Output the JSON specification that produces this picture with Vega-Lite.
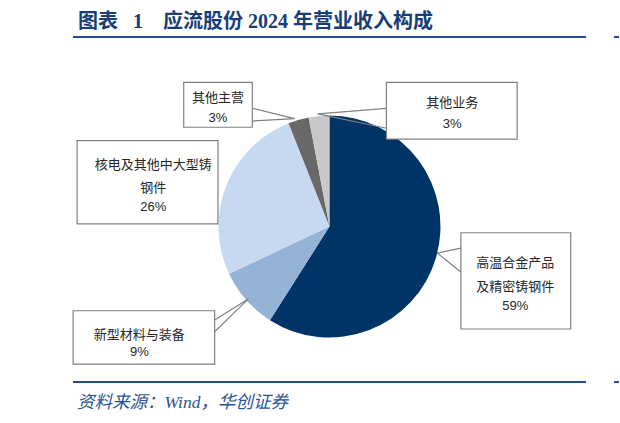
{
  "$schema": "https://vega.github.io/schema/vega-lite/v6.json",
  "width": 620,
  "height": 423,
  "autosize": {"type": "fit", "contains": "padding"},
  "padding": 0,
  "background": "white",
  "data": {
    "values": [
      {"category": "高温合金产品及精密铸钢件", "share": 0.59},
      {"category": "新型材料与装备", "share": 0.09},
      {"category": "核电及其他中大型铸钢件", "share": 0.26},
      {"category": "其他主营", "share": 0.03},
      {"category": "其他业务", "share": 0.03}
    ]
  },
  "layer": [
    {
      "data": {"values": [{}]},
      "mark": {"type": "rule", "color": "#1f4e8f", "strokeWidth": 2},
      "encoding": {
        "x": {"datum": -231.5, "type": "quantitative", "scale": {"domain": [-297.3, 261.3], "nice": false, "zero": false}},
        "x2": {"datum": 231.5},
        "y": {"datum": 170.7, "type": "quantitative", "scale": {"domain": [-177.0, 204.05], "nice": false, "zero": false}}
      }
    },
    {
      "data": {"values": [{}]},
      "mark": {"type": "rule", "color": "#1f4e8f", "strokeWidth": 2},
      "encoding": {"x": {"datum": -231.5}, "x2": {"datum": 231.5}, "y": {"datum": -140.1}}
    },
    {
      "data": {"values": [{}]},
      "mark": {"type": "rule", "color": "#1f4e8f", "strokeWidth": 2},
      "encoding": {"x": {"datum": 256.8}, "x2": {"datum": 261.3}, "y": {"datum": 170.7}}
    },
    {
      "data": {"values": [{}]},
      "mark": {"type": "rule", "color": "#1f4e8f", "strokeWidth": 2},
      "encoding": {"x": {"datum": 256.8}, "x2": {"datum": 261.3}, "y": {"datum": -140.1}}
    },
    {
      "data": {"values": [{}]},
      "mark": {
        "type": "text",
        "text": "图表\u2002\u00a01\u3000应流股份 2024 年营业收入构成",
        "align": "left",
        "baseline": "middle",
        "font": "Liberation Serif, Noto Sans CJK SC",
        "fontSize": 20,
        "fontWeight": "bold",
        "color": "#183e78"
      },
      "encoding": {"x": {"datum": -227.0}, "y": {"datum": 184.2}}
    },
    {
      "data": {"values": [{}]},
      "mark": {
        "type": "text",
        "text": "资料来源：Wind，华创证券",
        "align": "left",
        "baseline": "middle",
        "font": "Liberation Serif, Noto Sans CJK SC",
        "fontSize": 17.5,
        "fontStyle": "italic",
        "color": "#2a5394"
      },
      "encoding": {"x": {"datum": -227.9}, "y": {"datum": -159.0}}
    },
    {
      "transform": [{"window": [{"op": "row_number", "as": "idx"}]}],
      "mark": {"type": "arc", "outerRadius": 111},
      "encoding": {
        "theta": {"field": "share", "type": "quantitative", "stack": true},
        "order": {"field": "idx", "type": "quantitative"},
        "color": {
          "field": "category",
          "type": "nominal",
          "scale": {
            "domain": ["高温合金产品及精密铸钢件", "新型材料与装备", "核电及其他中大型铸钢件", "其他主营", "其他业务"],
            "range": ["#003366", "#95b3d7", "#c6d9f1", "#686868", "#c8c8c8"]
          },
          "legend": null
        },
        "x": {"datum": 0},
        "y": {"datum": 0}
      }
    },
    {
      "transform": [{"filter": "datum.category === '其他业务'"}],
      "layer": [
        {"mark": {"type": "rect", "fill": "white", "stroke": "#808080", "strokeWidth": 1.2},
         "encoding": {"x": {"datum": 51.4}, "x2": {"datum": 169.4}, "y": {"datum": 78.8}, "y2": {"datum": 129.9}}},
        {"mark": {"type": "rule", "color": "#808080", "strokeWidth": 1.2},
         "encoding": {"x": {"datum": 51.4}, "x2": {"datum": -10.5}, "y": {"datum": 106.5}, "y2": {"datum": 101.4}}},
        {"mark": {"type": "rule", "color": "#808080", "strokeWidth": 1.2},
         "encoding": {"x": {"datum": 51.4}, "x2": {"datum": -10.5}, "y": {"datum": 88.5}, "y2": {"datum": 101.4}}},
        {"mark": {"type": "text", "font": "Liberation Sans, Noto Sans CJK SC", "fontSize": 13, "color": "#262626", "baseline": "middle"},
         "encoding": {"x": {"datum": 110.8}, "y": {"datum": 111.0}, "text": {"field": "category"}}},
        {"mark": {"type": "text", "font": "Liberation Sans, Noto Sans CJK SC", "fontSize": 13, "color": "#262626", "baseline": "middle"},
         "encoding": {"x": {"datum": 110.8}, "y": {"datum": 92.3}, "text": {"field": "share", "type": "quantitative", "format": ".0%"}}}
      ]
    },
    {
      "transform": [{"filter": "datum.category === '其他主营'"}],
      "layer": [
        {"mark": {"type": "rect", "fill": "white", "stroke": "#808080", "strokeWidth": 1.2},
         "encoding": {"x": {"datum": -131.5}, "x2": {"datum": -69.6}, "y": {"datum": 89.4}, "y2": {"datum": 129.9}}},
        {"mark": {"type": "rule", "color": "#808080", "strokeWidth": 1.2},
         "encoding": {"x": {"datum": -69.6}, "x2": {"datum": -31.5}, "y": {"datum": 106.5}, "y2": {"datum": 97.2}}},
        {"mark": {"type": "rule", "color": "#808080", "strokeWidth": 1.2},
         "encoding": {"x": {"datum": -69.6}, "x2": {"datum": -31.5}, "y": {"datum": 95.0}, "y2": {"datum": 97.2}}},
        {"mark": {"type": "text", "font": "Liberation Sans, Noto Sans CJK SC", "fontSize": 13, "color": "#262626", "baseline": "middle"},
         "encoding": {"x": {"datum": -100.6}, "y": {"datum": 115.5}, "text": {"field": "category"}}},
        {"mark": {"type": "text", "font": "Liberation Sans, Noto Sans CJK SC", "fontSize": 13, "color": "#262626", "baseline": "middle"},
         "encoding": {"x": {"datum": -100.6}, "y": {"datum": 97.5}, "text": {"field": "share", "type": "quantitative", "format": ".0%"}}}
      ]
    },
    {
      "transform": [
        {"filter": "datum.category === '核电及其他中大型铸钢件'"},
        {"calculate": "[substring(datum.category, 0, 9), substring(datum.category, 9)]", "as": "lines"}
      ],
      "layer": [
        {"mark": {"type": "rect", "fill": "white", "stroke": "#808080", "strokeWidth": 1.2},
         "encoding": {"x": {"datum": -227.7}, "x2": {"datum": -100.6}, "y": {"datum": 2.3}, "y2": {"datum": 77.3}}},
        {"mark": {"type": "text", "font": "Liberation Sans, Noto Sans CJK SC", "fontSize": 13, "color": "#262626", "baseline": "middle", "lineHeight": 23.3},
         "encoding": {"x": {"datum": -159.0}, "y": {"datum": 55.4}, "text": {"field": "lines"}}},
        {"mark": {"type": "text", "font": "Liberation Sans, Noto Sans CJK SC", "fontSize": 13, "color": "#262626", "baseline": "middle"},
         "encoding": {"x": {"datum": -159.0}, "y": {"datum": 17.8}, "text": {"field": "share", "type": "quantitative", "format": ".0%"}}}
      ]
    },
    {
      "transform": [{"filter": "datum.category === '新型材料与装备'"}],
      "layer": [
        {"mark": {"type": "rect", "fill": "white", "stroke": "#808080", "strokeWidth": 1.2},
         "encoding": {"x": {"datum": -231.3}, "x2": {"datum": -103.6}, "y": {"datum": -75.9}, "y2": {"datum": -123.9}}},
        {"mark": {"type": "rule", "color": "#808080", "strokeWidth": 1.2},
         "encoding": {"x": {"datum": -103.6}, "x2": {"datum": -73.6}, "y": {"datum": -84.2}, "y2": {"datum": -65.6}}},
        {"mark": {"type": "rule", "color": "#808080", "strokeWidth": 1.2},
         "encoding": {"x": {"datum": -103.6}, "x2": {"datum": -73.6}, "y": {"datum": -94.8}, "y2": {"datum": -65.6}}},
        {"mark": {"type": "text", "font": "Liberation Sans, Noto Sans CJK SC", "fontSize": 13, "color": "#262626", "baseline": "middle"},
         "encoding": {"x": {"datum": -171.6}, "y": {"datum": -97.7}, "text": {"field": "category"}}},
        {"mark": {"type": "text", "font": "Liberation Sans, Noto Sans CJK SC", "fontSize": 13, "color": "#262626", "baseline": "middle"},
         "encoding": {"x": {"datum": -171.6}, "y": {"datum": -112.8}, "text": {"field": "share", "type": "quantitative", "format": ".0%"}}}
      ]
    },
    {
      "transform": [
        {"filter": "datum.category === '高温合金产品及精密铸钢件'"},
        {"calculate": "[substring(datum.category, 0, 6), substring(datum.category, 6)]", "as": "lines"}
      ],
      "layer": [
        {"mark": {"type": "rect", "fill": "white", "stroke": "#808080", "strokeWidth": 1.2},
         "encoding": {"x": {"datum": 118.6}, "x2": {"datum": 217.7}, "y": {"datum": -5.6}, "y2": {"datum": -92.3}}},
        {"mark": {"type": "rule", "color": "#808080", "strokeWidth": 1.2},
         "encoding": {"x": {"datum": 118.6}, "x2": {"datum": 97.3}, "y": {"datum": -19.4}, "y2": {"datum": -23.9}}},
        {"mark": {"type": "rule", "color": "#808080", "strokeWidth": 1.2},
         "encoding": {"x": {"datum": 118.6}, "x2": {"datum": 97.3}, "y": {"datum": -41.0}, "y2": {"datum": -23.9}}},
        {"mark": {"type": "text", "font": "Liberation Sans, Noto Sans CJK SC", "fontSize": 13, "color": "#262626", "baseline": "middle", "lineHeight": 24},
         "encoding": {"x": {"datum": 167.7}, "y": {"datum": -32.6}, "text": {"field": "lines"}}},
        {"mark": {"type": "text", "font": "Liberation Sans, Noto Sans CJK SC", "fontSize": 13, "color": "#262626", "baseline": "middle"},
         "encoding": {"x": {"datum": 167.7}, "y": {"datum": -71.6}, "text": {"field": "share", "type": "quantitative", "format": ".0%"}}}
      ]
    }
  ],
  "config": {
    "view": {"stroke": null},
    "axis": {"disable": true}
  }
}
